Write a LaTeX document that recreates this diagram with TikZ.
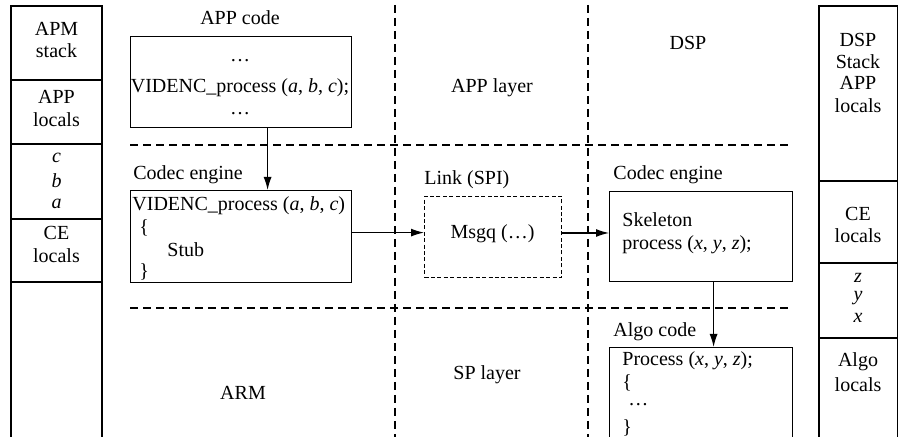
\documentclass[tikz,border=0pt]{standalone}
\usepackage{fontspec}
\setmainfont{Liberation Serif}
\usetikzlibrary{calc,arrows.meta}
\begin{document}
\begin{tikzpicture}[x=0.5pt,y=-0.5pt,
  font=\fontsize{10}{11}\selectfont,
  ln/.style={line width=0.6pt},
  box/.style={draw,line width=0.6pt,inner sep=0pt,anchor=north west},
  dbox/.style={draw,line width=0.5pt,dash pattern=on 2pt off 1.2pt,inner sep=0pt,anchor=north west},
  sep/.style={line width=0.6pt,dash pattern=on 4pt off 2.5pt},
  arr/.style={line width=0.6pt,-{Latex[length=6.5pt,width=4pt]}},
  txt/.style={inner sep=0pt},
  ltxt/.style={inner sep=0pt,anchor=west}]
\useasboundingbox (0,0) rectangle (898,437);
% left stack column
\draw[ln] (11,445) -- (11,6) -- (102,6) -- (102,445);
\foreach \yy in {80,144,219,282} \draw[ln] (11,\yy) -- (102,\yy);
\node[txt] (l1) at (56.5,29) {APM};
\node[txt] (l2) at (56.5,51) {stack};
\node[txt] (l3) at (56.5,97) {APP};
\node[txt] (l4) at (56.5,120) {locals};
\node[txt] (l5) at (56.5,158) {\textit{c}};
\node[txt] (l6) at (56.5,181) {\textit{b}};
\node[txt] (l7) at (56.5,204) {\textit{a}};
\node[txt] (l8) at (56.5,233) {CE};
\node[txt] (l9) at (56.5,256) {locals};
% right stack column
\draw[ln] (819,445) -- (819,6) -- (897.4,6) -- (897.4,445);
\foreach \yy in {181,263,338} \draw[ln] (819,\yy) -- (897.4,\yy);
\node[txt] (r1) at (858,40) {DSP};
\node[txt] (r2) at (858,62) {Stack};
\node[txt] (r3) at (858,83) {APP};
\node[txt] (r4) at (858,106) {locals};
\node[txt] (r5) at (858,214) {CE};
\node[txt] (r6) at (858,236) {locals};
\node[txt] (r7) at (858,278) {\textit{z}};
\node[txt] (r8) at (858,298) {\textit{y}};
\node[txt] (r9) at (858,318) {\textit{x}};
\node[txt] (r10) at (858,362) {Algo};
\node[txt] (r11) at (858,385) {locals};
% dashed separators
\draw[sep] (395,5) -- (395,437);
\draw[sep] (588,5) -- (588,437);
\draw[sep] (130,145) -- (790,145);
\draw[sep] (130,308) -- (790,308);
% region labels
\node[txt] (applayer) at (492,88) {APP layer};
\node[txt] (dsp) at (688,43) {DSP};
\node[txt] (arm) at (243,393) {ARM};
\node[txt] (splayer) at (487,375) {SP layer};
% APP code box
\node[txt] (appl) at (240,18) {APP code};
\node[box,minimum width=110.5pt,minimum height=45.5pt] (app) at (130,36) {};
\node[txt] (a1) at (240,61) {…};
\node[txt] (a2) at (240,88) {VIDENC\_process (\textit{a}, \textit{b}, \textit{c});};
\node[txt] (a3) at (240,114) {…};
% Codec engine (ARM)
\node[ltxt] (cel) at (133,175) {Codec engine};
\node[box,minimum width=110.5pt,minimum height=46pt] (codec) at (130,190) {};
\node[ltxt] (c1) at (132,206) {VIDENC\_process (\textit{a}, \textit{b}, \textit{c})};
\node[ltxt] (c2) at (139,228) {\{};
\node[ltxt] (c3) at (167,250) {Stub};
\node[ltxt] (c4) at (139,272) {\}};
% Link
\node[ltxt] (linkl) at (424,180) {Link (SPI)};
\node[dbox,minimum width=68.5pt,minimum height=40.5pt] (link) at (424,196) {};
\node[txt] (m) at (492.5,234) {Msgq (…)};
% Codec engine (DSP)
\node[ltxt] (cel2) at (613,175) {Codec engine};
\node[box,minimum width=91.5pt,minimum height=45pt] (dcodec) at (609,191) {};
\node[ltxt] (s1) at (622,220) {Skeleton};
\node[ltxt] (s2) at (622,245) {process (\textit{x}, \textit{y}, \textit{z});};
% Algo code
\node[ltxt] (algl) at (613,332) {Algo code};
\node[box,minimum width=91.5pt,minimum height=60pt] (algo) at (609,347) {};
\node[ltxt] (g1) at (622,361) {Process (\textit{x}, \textit{y}, \textit{z});};
\node[ltxt] (g2) at (622,383) {\{};
\node[ltxt] (g3) at (628,405) {…};
\node[ltxt] (g4) at (622,428) {\}};
% connectors
\draw[arr] ($(app.south)+(26.5,0)$) -- ($(codec.north)+(26.5,0)$);
\draw[arr] ([yshift=2pt]codec.east) -- ([yshift=2pt]codec.east -| link.west);
\draw[arr] ([yshift=2pt]link.east) -- ([yshift=2pt]link.east -| dcodec.west);
\draw[arr] ($(dcodec.south)+(12.5,0)$) -- ($(algo.north)+(12.5,0)$);
\end{tikzpicture}
\end{document}
